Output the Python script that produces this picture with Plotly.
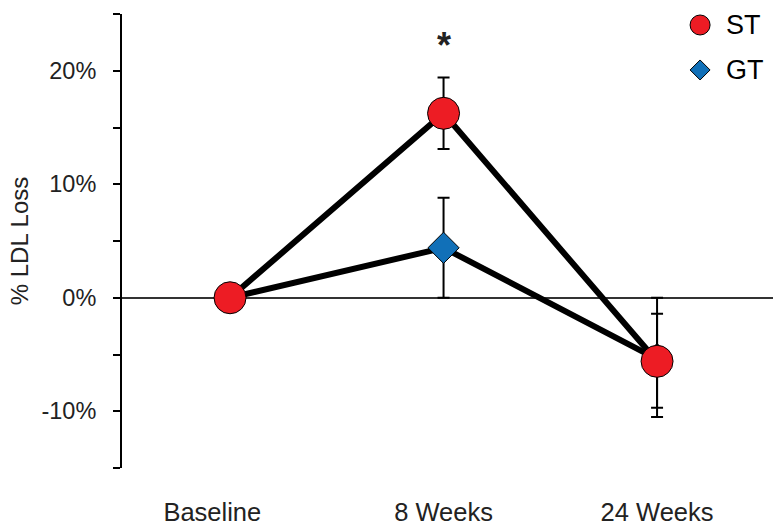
import plotly.graph_objects as go

# Time points and % LDL loss per group
timepoints = ["Baseline", "8 Weeks", "24 Weeks"]
timepoint_labels = ["Baseline\u00a0\u00a0\u00a0\u00a0\u00a0", "8 Weeks", "24 Weeks"]

st_values = [0.0, 16.25, -5.6]
st_err_plus = [0.0, 3.15, 4.2]
st_err_minus = [0.0, 3.15, 4.9]

gt_values = [0.0, 4.4, -5.4]
gt_err_plus = [0.0, 4.4, 5.4]
gt_err_minus = [0.0, 4.4, 4.3]

y_tick_vals = [-10, 0, 10, 20]
y_tick_text = ["-10%", "0%", "10%", "20%"]

RED = "#ED1C24"
BLUE = "#1170B8"
FONT = "Arial, Liberation Sans, sans-serif"

fig = go.Figure()

fig.add_trace(go.Scatter(
    x=timepoints, y=gt_values, name="GT", mode="lines+markers",
    line=dict(color="black", width=6),
    marker=dict(symbol="diamond", size=24, color=BLUE,
                line=dict(color="black", width=1)),
    error_y=dict(type="data", symmetric=False, array=gt_err_plus,
                 arrayminus=gt_err_minus, color="black", thickness=2, width=6),
    showlegend=False,
))

fig.add_trace(go.Scatter(
    x=timepoints, y=st_values, name="ST", mode="lines+markers",
    line=dict(color="black", width=6),
    marker=dict(symbol="circle", size=32, color=RED,
                line=dict(color="black", width=1)),
    error_y=dict(type="data", symmetric=False, array=st_err_plus,
                 arrayminus=st_err_minus, color="black", thickness=2, width=6),
    showlegend=False,
))

# Significance marker above the 8-week ST point
fig.add_annotation(x="8 Weeks", y=22.2, text="<b>*</b>", showarrow=False,
                   font=dict(family=FONT, size=36, color="#222"),
                   xanchor="center", yanchor="middle")

# Legend: symbols drawn at fixed pixel size, labels as annotations
leg_x = 0.888
leg_items = [("ST", 0.9758, "circle", RED), ("GT", 0.8767, "diamond", BLUE)]
for label, ly, sym, col in leg_items:
    if sym == "circle":
        fig.add_shape(type="circle", xref="paper", yref="paper",
                      xsizemode="pixel", ysizemode="pixel",
                      xanchor=leg_x, yanchor=ly,
                      x0=-10, x1=10, y0=-10, y1=10,
                      fillcolor=col, line=dict(color="black", width=1))
    else:
        fig.add_shape(type="path", xref="paper", yref="paper",
                      xsizemode="pixel", ysizemode="pixel",
                      xanchor=leg_x, yanchor=ly,
                      path="M -10 0 L 0 10 L 10 0 L 0 -10 Z",
                      fillcolor=col, line=dict(color="black", width=1))
    fig.add_annotation(x=0.925, y=ly, xref="paper", yref="paper",
                       text=label, showarrow=False, xanchor="left",
                       yanchor="middle",
                       font=dict(family=FONT, size=27, color="black"))

fig.update_layout(
    width=773, height=529,
    margin=dict(l=122, r=0, t=14, b=61),
    paper_bgcolor="white", plot_bgcolor="white",
    font=dict(family=FONT, color="#222"),
)

fig.update_xaxes(
    type="category", range=[-0.506, 2.543],
    tickvals=timepoints, ticktext=timepoint_labels,
    showline=False, showgrid=False, zeroline=False, ticks="",
    tickfont=dict(family=FONT, size=25.5, color="#222"),
    ticklabelstandoff=26,
)

fig.update_yaxes(
    range=[-15, 25], tickvals=y_tick_vals, ticktext=y_tick_text,
    showline=True, linecolor="black", linewidth=2,
    ticks="outside", ticklen=7, tickwidth=2, tickcolor="black",
    minor=dict(ticks="outside", ticklen=7, tickwidth=2, tickcolor="black",
               dtick=5, tick0=0, showgrid=False),
    showgrid=False,
    zeroline=True, zerolinecolor="#333", zerolinewidth=2,
    tickfont=dict(family=FONT, size=23.5, color="#222"),
    ticklabelstandoff=12,
    title=dict(text="% LDL Loss", standoff=6,
               font=dict(family=FONT, size=24, color="#222")),
)

fig.write_html("out.html")
